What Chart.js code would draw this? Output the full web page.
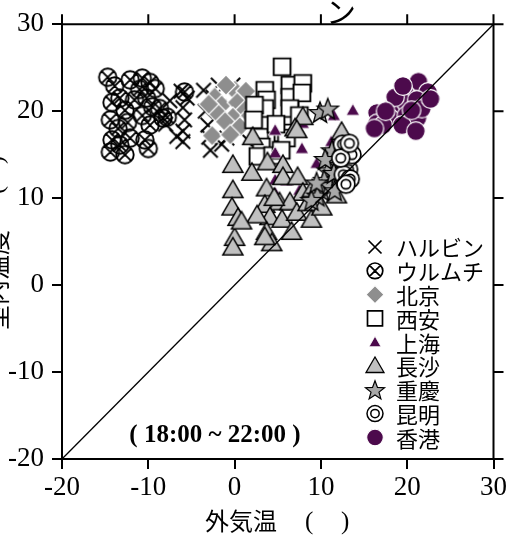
<!DOCTYPE html>
<html>
<head>
<meta charset="utf-8">
<script src="https://cdn.jsdelivr.net/npm/chart.js@4.4.1/dist/chart.umd.min.js"></script>
<style>
  html, body { margin: 0; padding: 0; background: #fff; }
  #wrap { width: 510px; height: 540px; position: relative; }
</style>
</head>
<body>
<div id="wrap"><canvas id="chart"></canvas></div>
<script>
// 都市名（凡例の順）
const cities = ['ハルビン', 'ウルムチ', '北京', '西安', '上海', '長沙', '重慶', '昆明', '香港'];
const markers = ['cross', 'otimes', 'diamond', 'square', 'smallTri', 'triangle', 'star', 'bullseye', 'dot'];

// [外気温, 室温]
const harbin = [[-6.2, 22.3], [-5.5, 21.5], [-6, 20.4], [-5.8, 19], [-6, 17.7], [-6, 16.5], [-6.7, 17.1],
  [-3.6, 22.4], [-2.5, 21.6], [-3.4, 20], [-3.1, 18.4], [-3, 17], [-1.5, 16.2], [-0.9, 16.9], [0.6, 17.6],
  [-1.8, 20.5], [-7.5, 21.2], [-8, 18.5], [-2.8, 15.5], [-1.9, 23], [-0.2, 23]];
const urumqi = [[-14.7, 23.9], [-13.9, 22.9], [-12.1, 23.6], [-10.7, 23.8], [-9.8, 23.3], [-9.2, 22.6],
  [-14.2, 21], [-13.3, 21.5], [-12.7, 20.1], [-11.6, 21.3], [-10.2, 21.5], [-8.7, 20.3], [-14.4, 19],
  [-13.5, 18], [-12.4, 18.7], [-10.7, 19.5], [-9.8, 18.4], [-8.3, 19.2], [-7.8, 19.3], [-14.2, 16.7],
  [-13.3, 16.1], [-12.1, 16.9], [-14.4, 15.3], [-10.4, 16.7], [-10, 15.7], [-12.7, 15], [-5.8, 22.2],
  [-11, 22.5], [-9.5, 20.5]];
const beijing = [[-2.3, 21.6], [0, 22.4], [-1, 23], [1.3, 22.3], [-1.5, 20.7], [0.3, 21], [1.2, 20.1],
  [-2.1, 19.9], [-0.2, 19.3], [-1.1, 18.8], [0.6, 18.2], [-2.6, 17.2], [-0.5, 17.3], [-3, 20.8], [1.8, 19.5]];
const xian = [[5.5, 25.1], [3.5, 22.4], [3.7, 21.3], [3.5, 20.3], [6.4, 23], [7.9, 23.2], [6.4, 21.6],
  [7.8, 22.1], [6.4, 20.3], [2.3, 20.7], [2.2, 19], [2.9, 17], [3.1, 15.9], [5.6, 17.5], [6, 16.9],
  [4.8, 18.5], [7.5, 19.5], [2.7, 14.8], [4.4, 14.9], [5.4, 15.5]];
const shanghai = [[13.7, 20.1], [11.5, 19.5], [4.7, 17.8], [7.9, 18.6], [7.8, 15.7], [4.7, 15.2], [11, 15.5],
  [11.2, 16.5], [4.7, 12.1], [4.7, 10.6], [7.5, 10.9], [10.8, 12.9], [12.2, 13.3], [9.5, 14], [12.5, 16], [6, 12]];
const changsha = [[7.9, 19.3], [7, 18], [2.1, 17], [12.4, 17.6], [-0.2, 13.8], [2.0, 12.9], [-0.2, 10.9],
  [-0.3, 8.9], [0.4, 7.7], [0, 5.4], [-0.2, 4.3], [3.8, 14.1], [5.6, 13.8], [5.6, 12.4], [3.7, 11.1],
  [7.3, 12.4], [7.9, 10.6], [3.5, 9.2], [5.2, 9.5], [6.4, 9.5], [4.1, 7.8], [5.5, 7.5], [7.2, 8.3],
  [8.5, 9.4], [3.7, 6.1], [6.6, 6.1], [4.3, 4.8], [8.9, 7.5], [10.1, 8.9], [11.8, 10.3], [7.2, 17.8],
  [2.6, 8], [4.6, 10], [9, 11], [3.5, 5.5], [0.8, 7.3]];
const chongqing = [[9.9, 19.9], [10.8, 20.3], [11.3, 15.5], [11.6, 14.4], [10.8, 13.2], [10.4, 12.1],
  [10.1, 10.9], [9.6, 10.3], [11, 11.5], [12, 12.6], [12.2, 13.8], [12.8, 14.4], [11.6, 10.9], [8.9, 9.8],
  [10.5, 14.5], [9.5, 11.8], [11.5, 12.9]];
const kunming = [[12.8, 15.5], [12.5, 16.2], [13, 14.8], [12.8, 14], [13.2, 13.3], [12.6, 12.7],
  [13.4, 12.2], [12.9, 11.6], [13.6, 15], [12.3, 14.6], [13.3, 16.3]];
const hongkong = [[21.3, 23.4], [22.4, 22.2], [19.7, 22.1], [18.3, 20.5], [19.9, 20.9], [21.1, 21.3],
  [16.5, 19.8], [18, 19.2], [19.9, 19.5], [21.2, 19.2], [16.5, 18.6], [21.7, 20.3], [19.4, 18.4],
  [17.2, 18.4], [18.6, 21.6], [20.5, 20.1], [17.5, 20], [21, 17.7], [16.2, 18], [19.5, 22.9], [22.7, 21.4]];
const seriesData = [harbin, urumqi, beijing, xian, shanghai, changsha, chongqing, kunming, hongkong];

const xTicks = [-20, -10, 0, 10, 20, 30];
const yTicks = [-20, -10, 0, 10, 20, 30];

const PURPLE = '#4c0a4c';

// マーカー描画
const drawMarker = (ctx, kind, x, y, k = 1) => {
  ctx.save();
  ctx.translate(x, y);
  ctx.scale(k, k);
  ctx.lineJoin = 'miter';
  ctx.beginPath();
  switch (kind) {
    case 'cross':
      ctx.moveTo(-6.5, -6.5); ctx.lineTo(6.5, 6.5);
      ctx.moveTo(-6.5, 6.5); ctx.lineTo(6.5, -6.5);
      ctx.strokeStyle = '#000'; ctx.lineWidth = 1.7; ctx.stroke();
      break;
    case 'otimes': {
      const r = 7.8, d = r * Math.SQRT1_2;
      ctx.arc(0, 0, r, 0, Math.PI * 2);
      ctx.moveTo(-d, -d); ctx.lineTo(d, d);
      ctx.moveTo(-d, d); ctx.lineTo(d, -d);
      ctx.strokeStyle = '#000'; ctx.lineWidth = 1.7; ctx.stroke();
      break;
    }
    case 'diamond':
      ctx.moveTo(0, -9); ctx.lineTo(9, 0); ctx.lineTo(0, 9); ctx.lineTo(-9, 0); ctx.closePath();
      ctx.fillStyle = '#8e8e8e'; ctx.fill();
      ctx.strokeStyle = '#fff'; ctx.lineWidth = 1.1; ctx.stroke();
      break;
    case 'square':
      ctx.rect(-7.5, -7.5, 15, 15);
      ctx.fillStyle = '#fff'; ctx.fill();
      ctx.strokeStyle = '#000'; ctx.lineWidth = 1.7; ctx.stroke();
      break;
    case 'smallTri':
      ctx.moveTo(0, -6); ctx.lineTo(6, 4.5); ctx.lineTo(-6, 4.5); ctx.closePath();
      ctx.fillStyle = PURPLE; ctx.fill();
      ctx.strokeStyle = '#fff'; ctx.lineWidth = 0.8; ctx.stroke();
      break;
    case 'triangle':
      ctx.moveTo(0, -9); ctx.lineTo(9, 6.5); ctx.lineTo(-9, 6.5); ctx.closePath();
      ctx.fillStyle = '#c0c0c0'; ctx.fill();
      ctx.strokeStyle = '#000'; ctx.lineWidth = 1.3; ctx.stroke();
      break;
    case 'star':
      for (let i = 0; i < 10; i++) {
        const rr = i % 2 === 0 ? 10 : 4.2;
        const a = -Math.PI / 2 + i * Math.PI / 5;
        const px = rr * Math.cos(a), py = rr * Math.sin(a) + 1;
        if (i === 0) ctx.moveTo(px, py); else ctx.lineTo(px, py);
      }
      ctx.closePath();
      ctx.fillStyle = '#a8a8a8'; ctx.fill();
      ctx.strokeStyle = '#000'; ctx.lineWidth = 1.2; ctx.stroke();
      break;
    case 'bullseye':
      ctx.arc(0, 0, 8, 0, Math.PI * 2);
      ctx.fillStyle = '#fff'; ctx.fill();
      ctx.strokeStyle = '#000'; ctx.lineWidth = 1.5; ctx.stroke();
      ctx.beginPath();
      ctx.arc(0, 0, 4.2, 0, Math.PI * 2);
      ctx.stroke();
      break;
    case 'dot':
      ctx.arc(0, 0, 8.3, 0, Math.PI * 2);
      ctx.fillStyle = PURPLE; ctx.fill();
      ctx.strokeStyle = '#fff'; ctx.lineWidth = 1.1; ctx.stroke();
      break;
  }
  ctx.restore();
};

const makeMarker = (kind) => {
  const c = document.createElement('canvas');
  c.width = 30; c.height = 30;
  drawMarker(c.getContext('2d'), kind, 15, 15, 1.12);
  return c;
};

const datasets = cities.map((name, i) => ({
  label: name,
  data: seriesData[i].map(([x, y]) => ({ x, y })),
  pointStyle: makeMarker(markers[i]),
  pointRadius: 9,
  order: 20 - i, // 後の都市ほど上に描く
}));

// y = x の対角線
datasets.push({
  label: 'diag',
  type: 'line',
  data: [{ x: -20, y: -20 }, { x: 30, y: 30 }],
  borderColor: '#000',
  borderWidth: 1.3,
  pointRadius: 0,
  order: 0,
});

const framePlugin = {
  id: 'frame',
  afterDraw(chart) {
    const { ctx, chartArea: a, scales } = chart;
    ctx.save();
    ctx.strokeStyle = '#000';
    ctx.lineWidth = 2;
    ctx.beginPath();
    ctx.moveTo(a.left, a.top); ctx.lineTo(a.right, a.top); ctx.lineTo(a.right, a.bottom);
    xTicks.forEach((v) => {
      const px = scales.x.getPixelForValue(v);
      ctx.moveTo(px, a.top); ctx.lineTo(px, a.top - 10);
    });
    yTicks.forEach((v) => {
      const py = scales.y.getPixelForValue(v);
      ctx.moveTo(a.right, py); ctx.lineTo(a.right + 10, py);
    });
    ctx.stroke();

    // 凡例
    ctx.font = '22px "Noto Sans CJK JP"';
    ctx.textBaseline = 'middle';
    cities.forEach((name, i) => {
      const y = 247 + i * 23.8;
      drawMarker(ctx, markers[i], 375, y, 1);
      ctx.fillStyle = '#000';
      ctx.fillText(name, 396, y + 1);
    });

    // 時間帯
    ctx.fillStyle = '#000';
    ctx.font = 'bold 25px "Liberation Serif"';
    ctx.textAlign = 'center';
    ctx.fillText('( 18:00 ~ 22:00 )', 215, 436);

    // x軸タイトル
    ctx.font = '24px "Noto Sans CJK JP"';
    ctx.textAlign = 'left';
    ctx.fillText('外気温', 205, 521);
    ctx.font = '25px "Liberation Serif"';
    ctx.fillText('(', 305, 522);
    ctx.fillText(')', 341, 522);

    // y軸タイトル（左端で切れている）
    ctx.save();
    ctx.translate(-3, 0);
    ctx.rotate(-Math.PI / 2);
    ctx.font = '25px "Noto Sans CJK JP"';
    ctx.textAlign = 'left';
    ctx.fillText('室内温度', -330, 0);
    ctx.font = '24px "Liberation Serif"';
    ctx.textAlign = 'center';
    ctx.fillText('(', -190, 0);
    ctx.fillText(')', -160, 0);
    ctx.restore();

    // タイトル（上端で切れている）
    ctx.font = '30px "Noto Sans CJK JP"';
    ctx.textAlign = 'center';
    ctx.textBaseline = 'bottom';
    ctx.fillText('ン', 341, 27);
    ctx.restore();
  },
};

const tickFont = { family: 'Liberation Serif', size: 27 };

new Chart(document.getElementById('chart'), {
  type: 'scatter',
  data: { datasets },
  options: {
    responsive: true,
    maintainAspectRatio: false,
    animation: false,
    layout: { padding: { top: 24, right: 16, left: 0, bottom: 0 } },
    plugins: {
      legend: { display: false },
      tooltip: { enabled: false },
    },
    scales: {
      x: {
        type: 'linear',
        min: -20,
        max: 30,
        afterBuildTicks: (s) => { s.ticks = xTicks.map((v) => ({ value: v })); },
        afterFit: (s) => { s.height = 81; },
        grid: { drawOnChartArea: false, color: '#000', lineWidth: 2, tickLength: 10 },
        border: { color: '#000', width: 2 },
        ticks: { color: '#000', font: tickFont, padding: 3, maxRotation: 0 },
      },
      y: {
        type: 'linear',
        min: -20,
        max: 30,
        afterBuildTicks: (s) => { s.ticks = yTicks.map((v) => ({ value: v })); },
        afterFit: (s) => { s.width = 62; },
        grid: { drawOnChartArea: false, color: '#000', lineWidth: 2, tickLength: 10 },
        border: { color: '#000', width: 2 },
        ticks: { color: '#000', font: tickFont, padding: 8 },
      },
    },
  },
  plugins: [framePlugin],
});
</script>
</body>
</html>
